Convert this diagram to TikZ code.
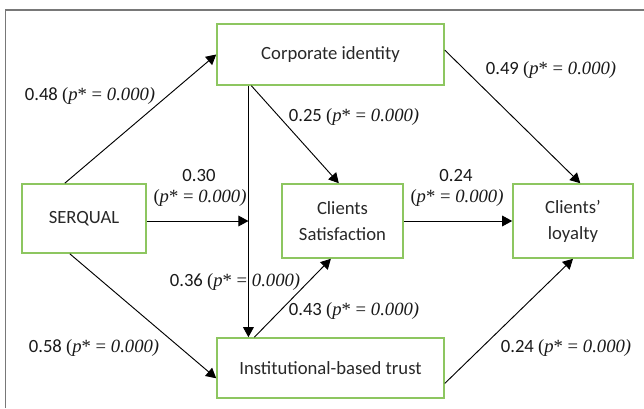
\documentclass[tikz,border=0pt]{standalone}
\usepackage{fontspec}
\setmainfont{Carlito}
\newfontfamily\pfont{Liberation Serif}
\newfontfamily\pfontit{Liberation Serif Italic}
\usetikzlibrary{calc,arrows.meta,positioning}
\definecolor{boxgreen}{RGB}{141,198,96}
\definecolor{txtgray}{RGB}{40,40,40}
\definecolor{framegray}{RGB}{120,120,120}
\tikzstyle{aS}=[every edge/.style={draw,-{Triangle[length=7.5pt,width=8pt]},line width=0.7pt}]
\tikzstyle{Abox}=[draw=boxgreen,line width=1.2pt,align=center,text=txtgray,
                font=\fontsize{14}{19.5}\selectfont,inner sep=0pt]
\tikzstyle{Alab}=[text=black!90,font=\fontsize{14}{17}\selectfont,inner sep=1pt]
\newcommand{\pv}{{\pfont(}{\pfontit p}{\pfont* = }{\pfontit 0.000)}}

\begin{document}
\begin{tikzpicture}[aS,x=0.75pt,y=-0.75pt]
  \useasboundingbox (0,0) rectangle (644,408);
  % frame
  \draw[framegray,line width=1.3pt] (5.5,408) -- (5.5,10) -- (644,10);
  % boxes
  \node[Abox,minimum width=170.25pt,minimum height=45.75pt] (corp) at (330.5,54.5) {Corporate identity};
  \node[Abox,minimum width=93pt,minimum height=51.75pt] (serq) at (84,218.5) {SERQUAL};
  \node[Abox,minimum width=90.75pt,minimum height=55.5pt] (sat) at (342.5,221) {Clients\\Satisfaction};
  \node[Abox,minimum width=90pt,minimum height=55.5pt] (loy) at (573,221) {Clients'\\loyalty};
  \node[Abox,minimum width=170.25pt,minimum height=45pt] (inst) at (330.5,368) {Institutional-based trust};
  % points on the borders
  \coordinate (ctop) at ($(corp.south west)!0.141!(corp.south east)$);
  \coordinate (cvline) at (ctop |- sat.west);
  % paths
  \path ($(serq.north west)!0.347!(serq.north east)$) edge (corp.west)
        ($(serq.south west)!0.387!(serq.south east)$) edge ($(inst.north west)!0.667!(inst.south west)$)
        (serq.east |- sat.west) edge (cvline)
        (ctop) edge (ctop |- inst.north)
        ($(corp.south west)!0.154!(corp.south east)$) edge ($(sat.north west)!0.47!(sat.north east)$)
        ($(corp.north east)!0.43!(corp.south east)$) edge ($(loy.north west)!0.56!(loy.north east)$)
        (sat.east) edge (loy.west)
        ($(inst.north west)!0.167!(inst.north east)$) edge ($(sat.south west)!0.405!(sat.south east)$)
        ($(inst.north east)!0.75!(inst.south east)$) edge (loy.south);
  % labels
  \node[Alab] (l48) at (90,96) {0.48 \pv};
  \node[Alab] (l49) at (551,70) {0.49 \pv};
  \node[Alab] (l25) at (354,117) {0.25 \pv};
  \node[Alab] (l30) at (199,176) {0.30};
  \node[Alab] (l30p) at (200,198) {\pv};
  \node[Alab] (l24) at (456,176) {0.24};
  \node[Alab] (l24p) at (457,198) {\pv};
  \node[Alab] (l36) at (235,282) {0.36 \pv};
  \node[Alab] (l43) at (354,311) {0.43 \pv};
  \node[Alab] (l58) at (94,348) {0.58 \pv};
  \node[Alab] (l24b) at (566,348) {0.24 \pv};
\end{tikzpicture}
\end{document}
